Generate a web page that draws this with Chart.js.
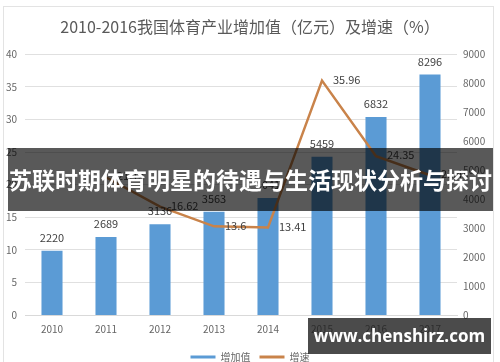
<!DOCTYPE html>
<html lang="zh">
<head>
<meta charset="UTF-8">
<title>2010-2016我国体育产业增加值及增速</title>
<script src="https://cdn.jsdelivr.net/npm/chart.js"></script>
<style>
    html, body { margin: 0; padding: 0; width: 500px; height: 362px; overflow: hidden; background: #fff; }
    #wrap { position: relative; width: 500px; height: 372px; }
    #frame { position: absolute; left: 3px; top: 6px; width: 489px; height: 370px; border: 1px solid #e3e3e3; pointer-events: none; }
    #banner {
        position: absolute; left: 8px; top: 148px; width: 485px; height: 63px;
        background: rgba(0, 0, 0, 0.65); color: #fff;
        font: bold 23px 'Noto Sans CJK SC', sans-serif; line-height: 63px;
        text-align: center; white-space: nowrap; overflow: hidden;
    }
    #mark {
        position: absolute; left: 308px; top: 318px; width: 183px; height: 36px;
        background: rgba(30, 30, 30, 0.8); color: #fff;
        font: bold 17px 'Open Sans', sans-serif; line-height: 36px;
        text-align: center; white-space: nowrap; overflow: hidden;
    }
</style>
</head>
<body>
<div id="wrap">
    <canvas id="myChart" width="500" height="372"></canvas>
    <div id="frame"></div>
    <div id="banner">苏联时期体育明星的待遇与生活现状分析与探讨</div>
    <div id="mark">www.chenshirz.com</div>
</div>

<script>
    const years = ['2010', '2011', '2012', '2013', '2014', '2015', '2016', '2017'];
    const addedValue = [2220, 2689, 3136, 3563, 4041, 5459, 6832, 8296];   // 增加值（亿元）
    const growthRate = [null, 21.13, 16.62, 13.6, 13.41, 35.96, 24.35, 21.43]; // 增速（%）
    const leftTicks = [0, 40, 5];
    const rightTicks = [0, 9000, 1000];

    Chart.defaults.font.family = "'Noto Sans CJK SC', sans-serif";
    Chart.defaults.color = '#666';

    // simple value labels, drawn from the dataset meta positions
    const valueLabels = {
        id: 'valueLabels',
        afterDatasetsDraw(chart) {
            const ctx = chart.ctx;
            ctx.save();
            ctx.font = "11px 'Noto Sans CJK SC', sans-serif";
            ctx.fillStyle = '#404040';
            ctx.textBaseline = 'middle';
            chart.data.datasets.forEach((ds, i) => {
                const meta = chart.getDatasetMeta(i);
                meta.data.forEach((el, j) => {
                    const v = ds.data[j];
                    if (v == null) return;
                    if (ds.type === 'bar') {
                        ctx.textAlign = 'center';
                        ctx.fillText(String(v), el.x, el.y - 13);
                    } else {
                        ctx.textAlign = 'left';
                        ctx.fillText(String(v), el.x + 11, el.y - 1);
                    }
                });
            });
            ctx.restore();
        }
    };

    const ctx = document.getElementById('myChart').getContext('2d');
    new Chart(ctx, {
        data: {
            labels: years,
            datasets: [
                {
                    type: 'line',
                    label: '增速',
                    data: growthRate,
                    yAxisID: 'y',
                    borderColor: '#c9834a',
                    borderWidth: 2.5,
                    pointRadius: 0,
                    tension: 0,
                    fill: false,
                    order: 0
                },
                {
                    type: 'bar',
                    label: '增加值',
                    data: addedValue,
                    yAxisID: 'y1',
                    backgroundColor: '#5b9bd5',
                    barPercentage: 0.39,
                    categoryPercentage: 1,
                    order: 1
                }
            ]
        },
        options: {
            responsive: false,
            animation: false,
            layout: { padding: 0 },
            plugins: {
                title: {
                    display: true,
                    text: '2010-2016我国体育产业增加值（亿元）及增速（%）',
                    color: '#595959',
                    font: { size: 16, weight: 'normal' },
                    padding: { top: 17, bottom: 18 }
                },
                legend: {
                    position: 'bottom',
                    reverse: true,
                    labels: {
                        usePointStyle: true,
                        pointStyle: 'line',
                        pointStyleWidth: 25,
                        padding: 9,
                        color: '#666',
                        font: { size: 10 },
                        generateLabels(chart) {
                            return chart.data.datasets.map((ds, i) => ({
                                text: ds.label,
                                fillStyle: ds.type === 'bar' ? ds.backgroundColor : ds.borderColor,
                                strokeStyle: ds.type === 'bar' ? ds.backgroundColor : ds.borderColor,
                                lineWidth: 3,
                                pointStyle: 'line',
                                datasetIndex: i,
                                fontColor: '#666'
                            }));
                        }
                    }
                },
                tooltip: { enabled: false }
            },
            scales: {
                x: {
                    grid: { display: false, drawTicks: false },
                    border: { display: true, color: '#d9d9d9' },
                    ticks: { padding: 8, font: { size: 10 } }
                },
                y: {
                    position: 'left',
                    min: leftTicks[0],
                    max: leftTicks[1],
                    ticks: { stepSize: leftTicks[2], padding: 8, font: { size: 10 } },
                    grid: { color: '#e0e0e0', drawTicks: false },
                    border: { display: false },
                    afterFit(scale) { scale.width = 25; }
                },
                y1: {
                    position: 'right',
                    min: rightTicks[0],
                    max: rightTicks[1],
                    ticks: {
                        stepSize: rightTicks[2], padding: 6, font: { size: 10 },
                        callback: v => String(v)
                    },
                    grid: { display: false, drawTicks: false },
                    border: { display: false },
                    afterFit(scale) { scale.width = 43; }
                }
            }
        },
        plugins: [valueLabels]
    });
</script>
</body>
</html>
